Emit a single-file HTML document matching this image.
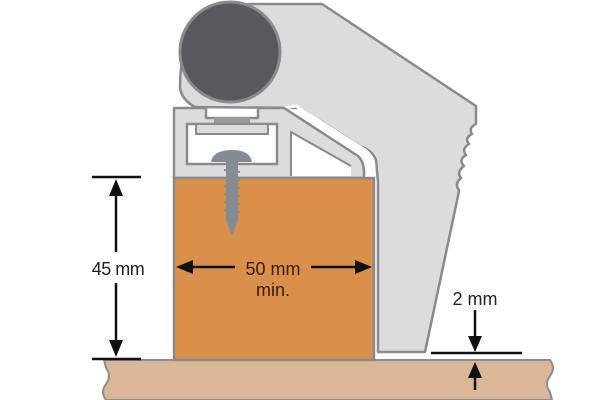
<!DOCTYPE html>
<html><head><style>html,body{margin:0;padding:0;background:#fff}svg{display:block}</style></head>
<body>
<svg width="600" height="400" viewBox="0 0 600 400" xmlns="http://www.w3.org/2000/svg">
<path d="M104,360 L550,360 Q556,368 550,376 Q544,384 550,392 L552,400 L106,400 Q100,392 106,384 Q112,376 106,368 Z" fill="#dbb697" stroke="#8d8d8d" stroke-width="2"/>
<path d="M250,4 L322,4 L476,106 L476,124 Q468,128 472,134 Q464,138 469,144 Q461,149 466,155 Q458,160 464,166 Q456,172 461,178 Q454,184 459,190 L458,196 L425,352 L378,352 L378,182 L376,160 Q372,150 360,146 L300,108 L195,107 Q182,100 180,88 Q180,40 200,12 Z" fill="#dcdcdc" stroke="#8a8a8a" stroke-width="2.5" stroke-linejoin="round"/>
<path d="M284,108 L296,106 L365,150 Q375,158 374,170 L373,180" fill="none" stroke="#fff" stroke-width="3"/>
<path d="M174,108 L206,108 L206,118 L258,118 L258,108 L284,108 L358,156 Q364,162 364,172 L364,178 L174,178 Z" fill="#dcdcdc" stroke="#8a8a8a" stroke-width="2.5" stroke-linejoin="round"/>
<rect x="187" y="124" width="90" height="40" fill="#fff" stroke="#8a8a8a" stroke-width="2.5"/>
<rect x="196" y="124" width="72" height="10" fill="#dcdcdc" stroke="#8a8a8a" stroke-width="2"/>
<rect x="214" y="117" width="36" height="6" fill="#9a9a9a"/>
<path d="M291,132 L351,166 L351,176 L291,176 Z" fill="#fff"/>
<path d="M291,176 L291,132 L351,166" fill="none" stroke="#8a8a8a" stroke-width="2"/>
<rect x="174" y="178" width="200" height="182" fill="#d9904b" stroke="#8a8a8a" stroke-width="2.5"/>
<path d="M211,162 Q213,150 232,150 Q250,150 252,162 Z" fill="#858b92"/>
<path d="M226,162 L238,162 L238,220 L232,236 L226,220 Z" fill="#858b92"/>
<path d="M224,170 L240,172 M224,178 L240,180 M224,186 L240,188 M224,194 L240,196 M224,202 L240,204 M224,210 L240,212" stroke="#858b92" stroke-width="2"/>
<circle cx="230" cy="52" r="50" fill="#58585d" stroke="#8a8a8a" stroke-width="3"/>
<g stroke="#111" stroke-width="2.5" fill="#111">
<line x1="92" y1="177" x2="141" y2="177"/>
<line x1="92" y1="359" x2="141" y2="359"/>
<line x1="116" y1="190" x2="116" y2="252"/>
<line x1="116" y1="283" x2="116" y2="345"/>
<path d="M116,179 L109,196 L123,196 Z" stroke="none"/>
<path d="M116,357 L109,340 L123,340 Z" stroke="none"/>
<line x1="188" y1="267" x2="235" y2="267"/>
<line x1="311" y1="267" x2="360" y2="267"/>
<path d="M176,267 L193,260 L193,274 Z" stroke="none"/>
<path d="M372,267 L355,260 L355,274 Z" stroke="none"/>
<line x1="431" y1="353" x2="522" y2="353"/>
<line x1="475" y1="310" x2="475" y2="340"/>
<path d="M475,352 L468,336 L482,336 Z" stroke="none"/>
<line x1="475" y1="372" x2="475" y2="390"/>
<path d="M475,362 L468,378 L482,378 Z" stroke="none"/>
</g>
<g font-family="Liberation Sans, sans-serif" font-size="18" fill="#222" text-anchor="middle">
<text x="118" y="275" style="letter-spacing:-0.5px">45 mm</text>
<text x="273" y="275" fill="#3a1c0a">50 mm</text>
<text x="273" y="296" fill="#3a1c0a">min.</text>
<text x="475" y="305">2 mm</text>
</g>
</svg>
</body></html>
